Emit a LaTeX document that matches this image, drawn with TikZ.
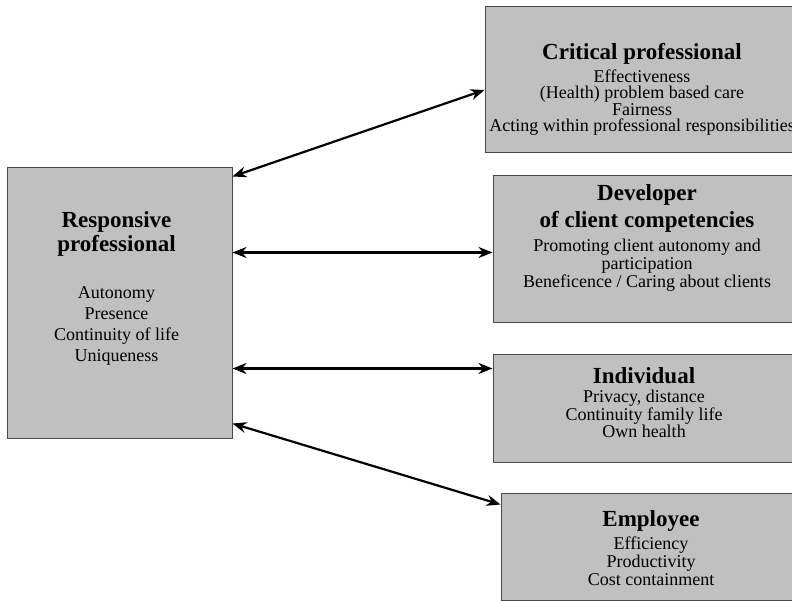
\documentclass[tikz,border=0pt]{standalone}
\usepackage{fontspec}
\setmainfont{Liberation Serif}
\usetikzlibrary{arrows.meta,positioning}
\definecolor{BoxGray}{HTML}{C0C0C0}
\definecolor{EdgeGray}{HTML}{4A4A4A}
\tikzset{
  rolebox/.style={draw=EdgeGray,fill=BoxGray,line width=1pt,inner sep=0pt},
  roletxt/.style={align=center,inner sep=0pt},
  link/.style={{Stealth[length=14pt,width=11pt]}-{Stealth[length=14pt,width=11pt]},line width=2.2pt}
}
\newcommand{\roletitle}{\fontsize{23}{23}\selectfont\bfseries}

\begin{document}
\lineskiplimit=-30pt
\begin{tikzpicture}[x=1pt,y=-1pt]
  \useasboundingbox (0,0) rectangle (792,601);

  % boxes
  \node[rolebox,minimum width=225pt,minimum height=270pt] (resp) at (119.5,303) {};
  \node[rolebox,minimum width=315pt,minimum height=146pt] (crit) at (642.5,80) {};
  \node[rolebox,minimum width=307pt,minimum height=147pt] (devel) at (646.5,249.5) {};
  \node[rolebox,minimum width=307pt,minimum height=108pt] (indiv) at (646.5,408) {};
  \node[rolebox,minimum width=299pt,minimum height=107pt] (empl) at (650.5,546.5) {};

  % texts
  \node[roletxt,font=\fontsize{18}{21}\selectfont] (respTxt) at (116.5,288.4)
    {{\roletitle Responsive}\\[3pt]{\roletitle professional}\\[26.6pt]
     Autonomy\\Presence\\Continuity of life\\Uniqueness};
  \node[roletxt,font=\fontsize{18}{16.5}\selectfont] (critTxt) at (642,89.4)
    {{\roletitle Critical professional}\\[5.9pt]Effectiveness\\
     (Health) problem based care\\Fairness\\Acting within professional responsibilities};
  \node[roletxt,font=\fontsize{18}{18}\selectfont] (develTxt) at (647,238.4)
    {{\roletitle Developer}\\[8.3pt]{\roletitle of client competencies}\\[6.7pt]
     Promoting client autonomy and\\participation\\Beneficence / Caring about clients};
  \node[roletxt,font=\fontsize{18}{17.5}\selectfont] (indivTxt) at (644,402.5)
    {{\roletitle Individual}\\[1.9pt]Privacy, distance\\Continuity family life\\Own health};
  \node[roletxt,font=\fontsize{18}{18}\selectfont] (emplTxt) at (651,548)
    {{\roletitle Employee}\\[4.6pt]Efficiency\\Productivity\\Cost containment};

  % connectors
  \coordinate (r1) at ([yshift=-9pt]resp.north east);
  \coordinate (r2) at ([yshift=-85pt]resp.north east);
  \coordinate (r3) at ([yshift=-201pt]resp.north east);
  \coordinate (r4) at ([yshift=15pt]resp.south east);
  \draw[link] (r1) -- ([yshift=-10pt]crit.west);
  \draw[link] (r2) -- (r2 -| devel.west);
  \draw[link] (r3) -- (r3 -| indiv.west);
  \draw[link] (r4) -- ([yshift=-12pt]empl.north west);
\end{tikzpicture}
\end{document}
